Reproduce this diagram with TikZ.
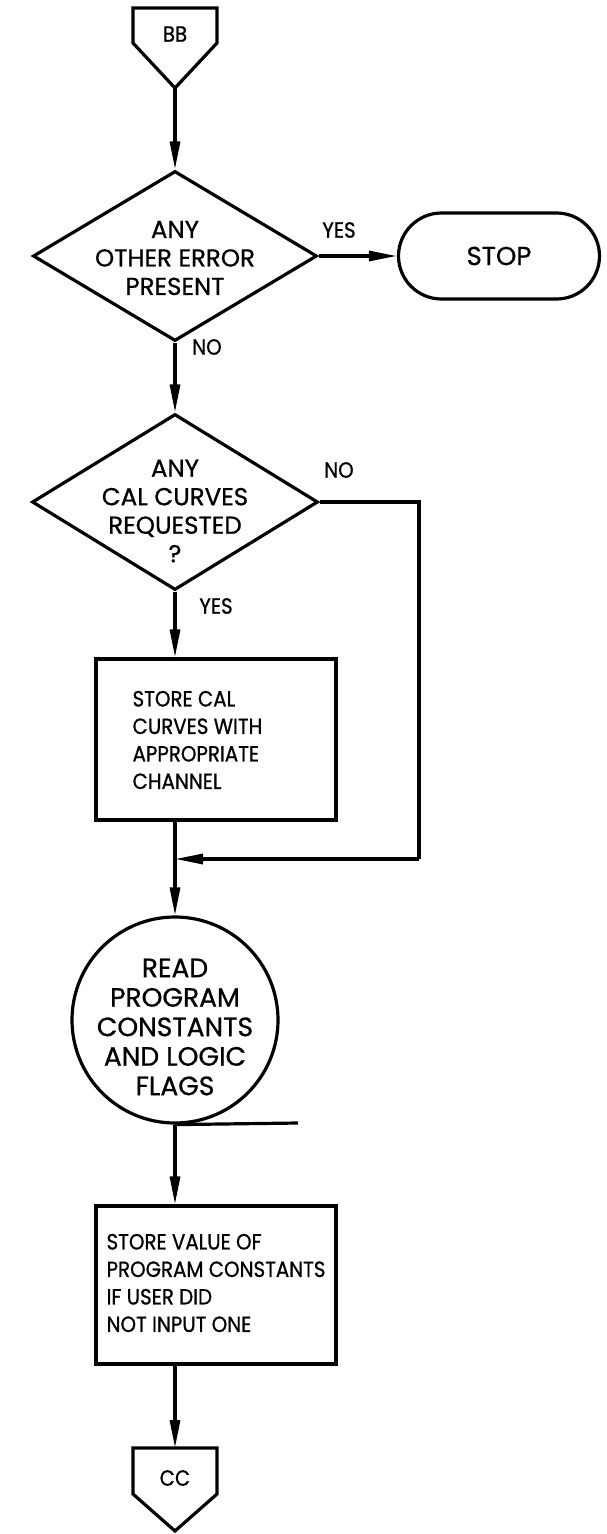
\documentclass[tikz,border=0pt]{standalone}
\usepackage{fontspec}
\setmainfont{Poppins}[FakeBold=0.8]
\newfontfamily\narrowfont{Poppins}[FakeBold=0.8,FakeStretch=0.9]
\usetikzlibrary{arrows.meta,shapes.geometric,shapes.misc}
\begin{document}
\begin{tikzpicture}[x=1pt,y=-1pt,line width=3.2pt,line join=miter,
  flow/.style={-{Triangle[length=28pt,width=10pt]}},
  boxtext/.style={font=\narrowfont\fontsize{22}{27.5}\selectfont,inner sep=0pt,align=left},
  bigtext/.style={font=\fontsize{24.5}{28.5}\selectfont,inner sep=0pt,align=center},
  tag/.style={font=\narrowfont\fontsize{22}{24}\selectfont,inner sep=0pt},
  decision/.style={diamond,draw,inner sep=0pt},
  process/.style={rectangle,draw,inner sep=0pt},
]
\useasboundingbox (0,0) rectangle (607,1534);

% entry connector BB
\draw (133,8) -- (217,8) -- (217,43) -- (175,88) -- (133,43) -- cycle;
\node[tag] (bb) at (175,34) {BB};
\coordinate (bbtip) at (175,88);

% first decision and the stop terminal
\node[decision,minimum width=284pt,minimum height=170pt] (q1) at (175,256) {};
\node[bigtext] (q1t) at (175,258) {ANY\\OTHER ERROR\\PRESENT};
\node[rounded rectangle,draw,minimum width=201pt,minimum height=86pt,
  inner sep=0pt,font=\fontsize{26}{30}\selectfont] (stop) at (499,256) {STOP};

% second decision
\node[decision,minimum width=286pt,minimum height=176pt] (q2) at (175,502) {};
\node[bigtext] (q2t) at (175,511) {ANY\\CAL CURVES\\REQUESTED\\?};

% store calibration curves
\node[process,minimum width=240pt,minimum height=161pt] (s1) at (216,739.5) {};
\node[boxtext,anchor=west] (s1t) at (131,740)
  {STORE CAL\\CURVES WITH\\APPROPRIATE\\CHANNEL};

% junction of the two branches
\coordinate (j) at (175,859);
\coordinate (jr) at (419,859);

% read program constants
\node[circle,draw,minimum size=206pt,inner sep=0pt] (rd) at (175,1020) {};
\node[bigtext,font=\fontsize{26.5}{29.5}\selectfont] (rdt) at (175,1027)
  {READ\\PROGRAM\\CONSTANTS\\AND LOGIC\\FLAGS};
\coordinate (tan) at (298,1123);

% store default constants
\node[process,minimum width=240pt,minimum height=158pt] (s2) at (216,1285) {};
\node[boxtext,anchor=west] (s2t) at (105,1283)
  {STORE VALUE OF\\PROGRAM CONSTANTS\\IF USER DID\\NOT INPUT ONE};

% exit connector CC
\draw (133,1448) -- (217,1448) -- (217,1494) -- (175,1531) -- (133,1494) -- cycle;
\node[tag] (cc) at (175,1478) {CC};
\coordinate (cctop) at (175,1448);

% connectors
\draw[flow] (bbtip) -- (q1.north);
\draw[flow] (q1.east) -- (stop.west);
\draw[flow] (q1.south) -- (q2.north);
\draw[flow] (q2.south) -- (q2.south |- s1.north);
\draw (q2.east) -| (jr);
\draw[flow] (jr) -- (j);
\draw[flow] (s1.south -| j) -- (rd.north);
\draw (rd.south) -- (tan);
\draw[flow] (rd.south) -- (s2.north -| rd.south);
\draw[flow] (s2.south -| rd.south) -- (cctop);

% branch labels
\node[tag] (yes1) at (339,230) {YES};
\node[tag] (no1) at (207,347) {NO};
\node[tag] (no2) at (339,470) {NO};
\node[tag] (yes2) at (216,606) {YES};
\end{tikzpicture}
\end{document}
